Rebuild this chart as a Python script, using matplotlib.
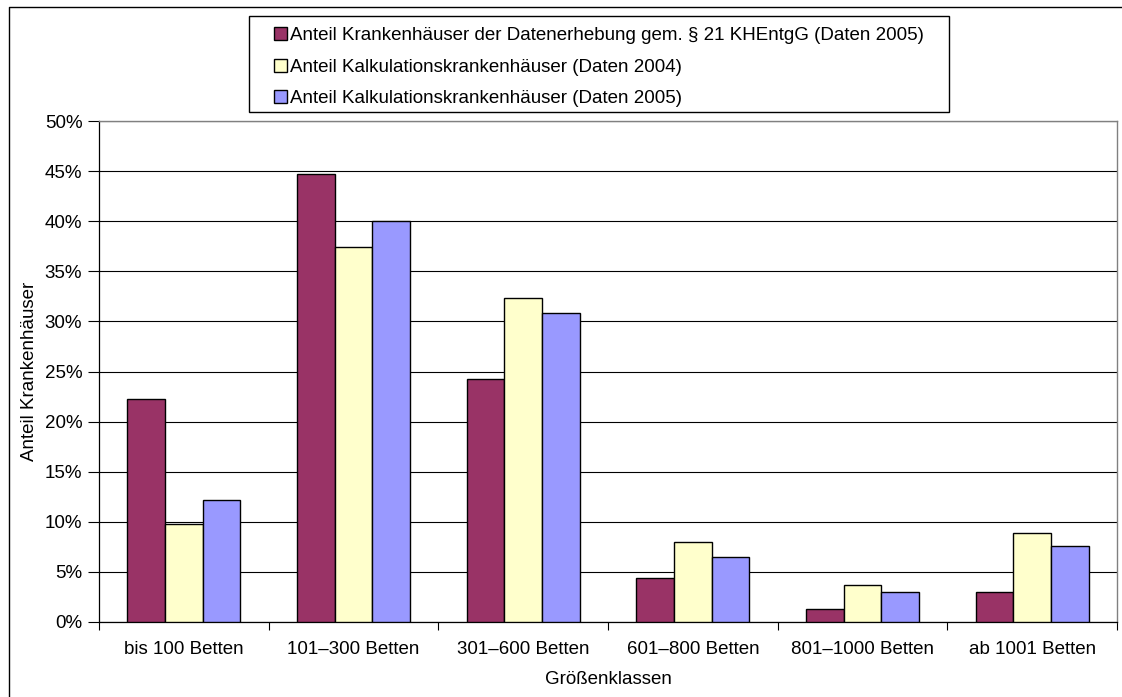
import numpy as np
import matplotlib
matplotlib.use("Agg")
import matplotlib.pyplot as plt
from matplotlib.lines import Line2D
from matplotlib.patches import Rectangle
from matplotlib.ticker import MultipleLocator, FuncFormatter

plt.rcParams['font.family'] = ['Liberation Sans', 'DejaVu Sans']

# data (percent)
categories = ["bis 100 Betten", "101\u2013300 Betten", "301\u2013600 Betten",
              "601\u2013800 Betten", "801\u20131000 Betten", "ab 1001 Betten"]
khentgg_2005 = [22.3, 44.7, 24.3, 4.4, 1.3, 3.0]
kalk_2004 = [9.8, 37.4, 32.3, 8.0, 3.7, 8.9]
kalk_2005 = [12.2, 40.0, 30.8, 6.5, 3.0, 7.6]
labels = ["Anteil Krankenhäuser der Datenerhebung gem. § 21 KHEntgG (Daten 2005)",
          "Anteil Kalkulationskrankenhäuser (Daten 2004)",
          "Anteil Kalkulationskrankenhäuser (Daten 2005)"]
colors = ["#993366", "#FFFFCC", "#9999FF"]

W, H = 1122, 697
fig = plt.figure(figsize=(W / 100, H / 100), dpi=100)
ax = fig.add_axes([99 / W, (H - 622) / H, 1018 / W, 501 / H])

fs = 13.5
x = np.arange(len(categories))
bw = 0.222
for i, (vals, lab, c) in enumerate(zip([khentgg_2005, kalk_2004, kalk_2005], labels, colors)):
    ax.bar(x + (i - 1) * bw, vals, width=bw, color=c, edgecolor="black",
           linewidth=1.0, label=lab, zorder=3)

ax.set_xlim(-0.5, len(categories) - 0.5)
ax.set_ylim(0, 50)
ax.yaxis.set_major_locator(MultipleLocator(5))
ax.yaxis.set_major_formatter(FuncFormatter(lambda v, p: "%d%%" % v))
ax.grid(axis="y", color="black", linewidth=0.8, zorder=0)

ax.set_xticks(x)
ax.set_xticklabels(categories, fontsize=fs)
ax.set_xticks(np.arange(len(categories) + 1) - 0.5, minor=True)
ax.tick_params(axis="x", which="major", length=0, pad=14)
ax.tick_params(axis="x", which="minor", length=6, width=0.8, color="black")
ax.tick_params(axis="y", length=8, width=0.8, labelsize=fs, pad=4)

for s in ["top", "right"]:
    ax.spines[s].set_color("#808080")
    ax.spines[s].set_linewidth(1.0)
for s in ["left", "bottom"]:
    ax.spines[s].set_color("black")
    ax.spines[s].set_linewidth(0.9)

ax.set_xlabel("Größenklassen", fontsize=fs, labelpad=9)
ax.set_ylabel("Anteil Krankenhäuser", fontsize=fs)
ax.yaxis.set_label_coords(-0.06, 0.5)

# legend frame as in the reference, entries placed inside it
fig.add_artist(Rectangle((249 / W, 1 - 112 / H), 700 / W, 96 / H,
                         transform=fig.transFigure, facecolor="white",
                         edgecolor="black", linewidth=1.0, zorder=1))
leg = fig.legend(loc="upper left", bbox_to_anchor=(274 / W, 1 - 27 / H),
                 borderaxespad=0, borderpad=0, frameon=False,
                 fontsize=fs, handlelength=0.68, handleheight=0.68,
                 handletextpad=0.2, labelspacing=0.78)
leg.set_zorder(2)

# outer chart frame (left and top visible in the reference)
fig.add_artist(Line2D([9 / W, 9 / W, 1], [0, 1 - 7 / H, 1 - 7 / H],
                      transform=fig.transFigure, color="black", linewidth=1.0))

fig.savefig("out.png", dpi=100)
